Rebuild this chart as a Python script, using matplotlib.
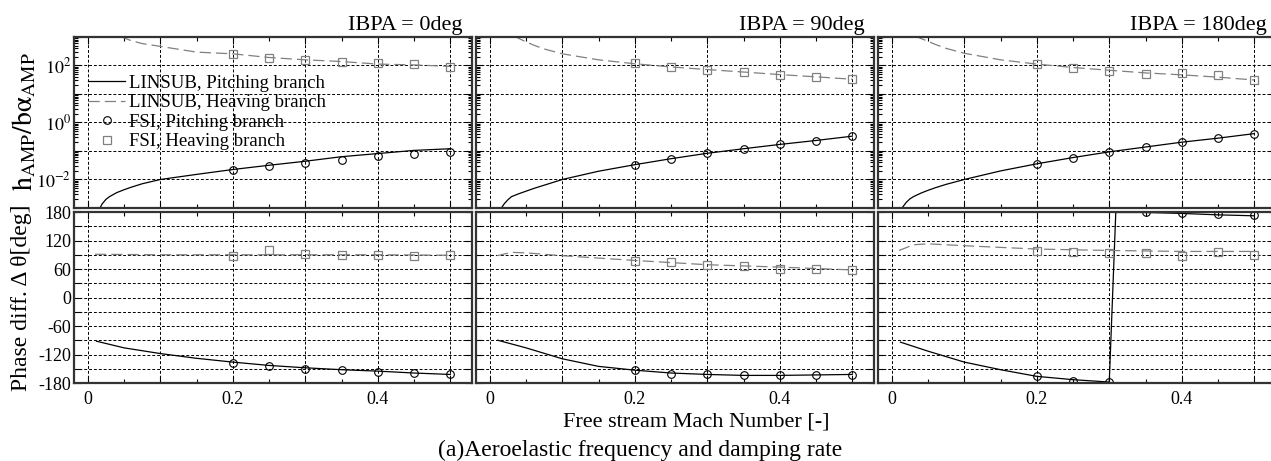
import numpy as np
import matplotlib
matplotlib.use('Agg')
import matplotlib.pyplot as plt
from matplotlib.ticker import FixedLocator, FuncFormatter, LogLocator, NullFormatter

plt.rcParams['font.family'] = ['Liberation Serif', 'DejaVu Serif']
plt.rcParams['mathtext.fontset'] = 'stix'

# --- data ---
titles = ['IBPA = 0deg', 'IBPA = 90deg', 'IBPA = 180deg']
mach_fsi = [0.2, 0.25, 0.3, 0.35, 0.4, 0.45, 0.5]

# amplitude ratio, LINSUB lines
amp_pitch_x0 = [0.016, 0.02, 0.025, 0.03, 0.04, 0.05, 0.06, 0.075, 0.1, 0.15, 0.2, 0.25, 0.3, 0.35, 0.4, 0.45, 0.5]
amp_pitch_y0 = [0.00092, 0.00141, 0.0020, 0.00251, 0.00347, 0.00437, 0.00537, 0.00708, 0.010, 0.0151,
                0.0224, 0.0316, 0.0437, 0.0631, 0.0813, 0.105, 0.120]
amp_heave_x0 = [0.045, 0.05, 0.06, 0.075, 0.1, 0.15, 0.2, 0.25, 0.3, 0.35, 0.4, 0.45, 0.5]
amp_heave_y0 = [1070, 933, 741, 589, 468, 295, 257, 191, 158, 138, 112, 105, 93]

amp_pitch_x1 = [0.015, 0.02, 0.025, 0.03, 0.04, 0.05, 0.06, 0.075, 0.1, 0.15, 0.2, 0.25, 0.3, 0.35, 0.4, 0.45, 0.5]
amp_pitch_y1 = [0.00092, 0.00141, 0.00195, 0.00251, 0.00316, 0.00389, 0.00479, 0.00631, 0.010, 0.0195,
                0.0331, 0.0537, 0.0832, 0.120, 0.170, 0.234, 0.331]
amp_heave_x1 = [0.034, 0.04, 0.05, 0.06, 0.075, 0.1, 0.15, 0.2, 0.25, 0.3, 0.35, 0.4, 0.45, 0.5]
amp_heave_y1 = [1070, 891, 676, 525, 380, 257, 158, 115, 89, 72, 59, 48, 40, 33]

amp_pitch_x2 = [0.013, 0.02, 0.025, 0.03, 0.04, 0.05, 0.06, 0.075, 0.1, 0.15, 0.2, 0.25, 0.3, 0.35, 0.4, 0.45, 0.5]
amp_pitch_y2 = [0.00092, 0.00158, 0.00209, 0.00251, 0.00331, 0.00417, 0.00513, 0.00676, 0.010, 0.020,
                0.0355, 0.0589, 0.0933, 0.138, 0.204, 0.282, 0.407]
amp_heave_x2 = [0.032, 0.04, 0.05, 0.06, 0.075, 0.1, 0.15, 0.2, 0.25, 0.3, 0.35, 0.4, 0.45, 0.5]
amp_heave_y2 = [1070, 891, 708, 550, 398, 269, 158, 112, 85, 68, 55, 47, 39, 31]

# amplitude ratio, FSI points
fsi_amp_heave0 = [257, 182, 158, 138, 124, 109, 88]
fsi_amp_pitch0 = [0.021, 0.030, 0.039, 0.050, 0.066, 0.079, 0.093]
fsi_amp_heave1 = [120, 87, 72, 59, 47, 41, 34]
fsi_amp_pitch1 = [0.032, 0.053, 0.083, 0.12, 0.17, 0.23, 0.33]
fsi_amp_heave2 = [110, 83, 65, 52, 56, 48, 32]
fsi_amp_pitch2 = [0.035, 0.059, 0.093, 0.14, 0.20, 0.28, 0.41]

# phase difference, LINSUB lines
ph_heave_x0 = [0.01, 0.1, 0.2, 0.3, 0.4, 0.5]
ph_heave_y0 = [91, 90, 90, 90, 90, 89]
ph_pitch_x0 = [0.012, 0.05, 0.1, 0.15, 0.2, 0.25, 0.3, 0.35, 0.4, 0.45, 0.5]
ph_pitch_y0 = [-92, -106, -118, -128, -136, -143, -148, -152, -155, -159, -162]

ph_heave_x1 = [0.01, 0.03, 0.05, 0.1, 0.15, 0.2, 0.3, 0.4, 0.5]
ph_heave_y1 = [88, 95, 94, 88, 83, 78, 69, 64, 58]
ph_pitch_x1 = [0.011, 0.05, 0.1, 0.15, 0.2, 0.25, 0.3, 0.35, 0.4, 0.45, 0.5]
ph_pitch_y1 = [-90, -106, -129, -145, -153, -159, -162, -164, -164, -163, -162]

ph_heave_x2 = [0.01, 0.03, 0.05, 0.1, 0.2, 0.3, 0.4, 0.5]
ph_heave_y2 = [99, 111, 113, 109, 102, 99, 97, 97]
ph_pitch_x2 = [0.012, 0.05, 0.1, 0.15, 0.2, 0.25, 0.3, 0.309, 0.35, 0.4, 0.45, 0.5]
ph_pitch_y2 = [-94, -113, -136, -152, -166, -173, -178, 179, 179, 177, 174, 172]

# phase difference, FSI points
fsi_ph_heave0 = [88, 100, 92, 90, 89, 88, 89]
fsi_ph_pitch0 = [-138, -145, -150, -153, -156, -159, -162]
fsi_ph_heave1 = [76, 74, 68, 66, 61, 60, 58]
fsi_ph_pitch1 = [-153, -160, -162, -164, -164, -164, -163]
fsi_ph_heave2 = [97, 95, 94, 93, 87, 95, 90]
fsi_ph_pitch2 = [-166, -175, -178, 179, 178, 175, 173]

amp_lines = [(amp_pitch_x0, amp_pitch_y0, amp_heave_x0, amp_heave_y0),
             (amp_pitch_x1, amp_pitch_y1, amp_heave_x1, amp_heave_y1),
             (amp_pitch_x2, amp_pitch_y2, amp_heave_x2, amp_heave_y2)]
amp_fsi = [(fsi_amp_pitch0, fsi_amp_heave0), (fsi_amp_pitch1, fsi_amp_heave1),
           (fsi_amp_pitch2, fsi_amp_heave2)]
ph_lines = [(ph_pitch_x0, ph_pitch_y0, ph_heave_x0, ph_heave_y0),
            (ph_pitch_x1, ph_pitch_y1, ph_heave_x1, ph_heave_y1),
            (ph_pitch_x2, ph_pitch_y2, ph_heave_x2, ph_heave_y2)]
ph_fsi = [(fsi_ph_pitch0, fsi_ph_heave0), (fsi_ph_pitch1, fsi_ph_heave1),
          (fsi_ph_pitch2, fsi_ph_heave2)]

W, H = 1271, 461
gray = '#808080'
panel_left = [74, 476, 878]
panel_w = 398


def rect(left, top, w, h):
    return [left / W, 1 - (top + h) / H, w / W, h / H]


def style(ax):
    ax.set_xlim(-0.019, 0.530)
    ax.xaxis.set_major_locator(FixedLocator([0, 0.1, 0.2, 0.3, 0.4, 0.5]))
    ax.xaxis.set_minor_locator(FixedLocator([0.05, 0.15, 0.25, 0.35, 0.45]))
    ax.xaxis.set_major_formatter(FuncFormatter(
        lambda v, p: '0' if abs(v) < 1e-9 else ('%.1f' % v if round(v * 10) % 2 == 0 else '')))
    ax.tick_params(which='both', direction='in', top=True, right=True, labelsize=13, width=0.8)
    ax.tick_params(which='major', length=5)
    ax.tick_params(which='minor', length=3)
    ax.tick_params(axis='x', pad=6)
    ax.tick_params(axis='y', pad=2)
    ax.grid(True, which='major', color='k', linestyle=(0, (3, 2)), linewidth=0.7)
    for sp in ax.spines.values():
        sp.set_linewidth(1.6)
        sp.set_color('#333333')


fig = plt.figure(figsize=(W / 100, H / 100), dpi=100)

for i in range(3):
    ax_a = fig.add_axes(rect(panel_left[i], 37, panel_w, 171))
    ax_p = fig.add_axes(rect(panel_left[i], 212, panel_w, 171))

    px, py, hx, hy = amp_lines[i]
    fp, fh = amp_fsi[i]
    l1, = ax_a.plot(px, py, color='k', lw=0.9, label='LINSUB, Pitching branch')
    l2, = ax_a.plot(hx, hy, color=gray, lw=0.9, dashes=(9, 4), label='LINSUB, Heaving branch')
    m1, = ax_a.plot(mach_fsi, fp, 'o', mfc='none', mec='k', ms=5.5, mew=0.8,
                    label='FSI, Pitching branch')
    m2, = ax_a.plot(mach_fsi, fh, 's', mfc='none', mec=gray, ms=5.5, mew=0.9,
                    label='FSI, Heaving branch')
    ax_a.set_yscale('log')
    style(ax_a)
    ax_a.set_ylim(1e-3, 1e3)
    ax_a.yaxis.set_major_locator(FixedLocator([10.0 ** e for e in range(-3, 4)]))
    ax_a.yaxis.set_major_formatter(FuncFormatter(
        lambda v, p: '$10^{%d}$' % round(np.log10(v)) if round(np.log10(v)) in (-2, 0, 2) else ''))
    ax_a.yaxis.set_minor_locator(LogLocator(base=10, subs=np.arange(2, 10), numticks=20))
    ax_a.yaxis.set_minor_formatter(NullFormatter())
    ax_a.tick_params(labelbottom=False)
    ax_a.text(1 - 9 / panel_w, 1 + 7 / 171, titles[i], transform=ax_a.transAxes,
              ha='right', va='baseline', fontsize=16, clip_on=False)

    px, py, hx, hy = ph_lines[i]
    fp, fh = ph_fsi[i]
    ax_p.plot(px, py, color='k', lw=0.9)
    ax_p.plot(hx, hy, color=gray, lw=0.9, dashes=(9, 4))
    ax_p.plot(mach_fsi, fp, 'o', mfc='none', mec='k', ms=5.5, mew=0.8)
    ax_p.plot(mach_fsi, fh, 's', mfc='none', mec=gray, ms=5.5, mew=0.9)
    style(ax_p)
    ax_p.set_ylim(-180, 180)
    ax_p.yaxis.set_major_locator(FixedLocator(list(range(-180, 181, 30))))
    ax_p.yaxis.set_major_formatter(FuncFormatter(
        lambda v, p: '%d' % v if round(v) % 60 == 0 else ''))

    if i > 0:
        ax_a.tick_params(labelleft=False)
        ax_p.tick_params(labelleft=False)
    else:
        leg = ax_a.legend(handles=[l1, l2, m1, m2], loc='upper left',
                          bbox_to_anchor=(0.035, 0.78), frameon=False, fontsize=13.5,
                          handlelength=2.0, handletextpad=0.2, labelspacing=0.13,
                          borderpad=0, borderaxespad=0)

fig.text(24 / W, 1 - 122 / H, r'$\mathrm{h_{AMP}/b\alpha_{AMP}}$', rotation=90,
         ha='center', va='center', fontsize=20)
fig.text(22 / W, 1 - 298 / H, 'Phase diff. Δ θ[deg]', rotation=90,
         ha='center', va='center', fontsize=17)
fig.text(696 / W, 1 - 422 / H, 'Free stream Mach Number [-]', ha='center', va='center',
         fontsize=16)
fig.text(640 / W, 1 - 450 / H, '(a)Aeroelastic frequency and damping rate', ha='center',
         va='center', fontsize=17)

fig.savefig('out.png', dpi=100)
